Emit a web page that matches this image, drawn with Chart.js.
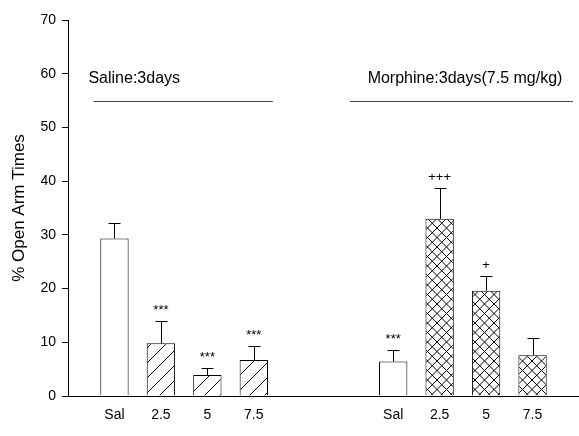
<!DOCTYPE html>
<html>
<head>
<meta charset="utf-8">
<script src="https://cdn.jsdelivr.net/npm/chart.js@4.4.1/dist/chart.umd.min.js"></script>
<style>
  html, body { margin: 0; padding: 0; background: #fff; }
  #wrap { width: 579px; height: 436px; position: relative; }
</style>
</head>
<body>
<div id="wrap"><canvas id="c"></canvas></div>
<script>
// Open-arm time (%) after 3 days of saline or morphine pretreatment
const doses = ['Sal', '2.5', '5', '7.5'];
const salineMeans = [29.3, 9.8, 3.9, 6.7];
const salineSem = [3.0, 4.2, 1.3, 2.7];
const morphineMeans = [6.4, 33.0, 19.6, 7.6];
const morphineSem = [2.2, 5.8, 2.8, 3.2];
const salineMarks = ['', '***', '***', '***'];
const morphineMarks = ['***', '+++', '+', ''];
const groupTitles = ['Saline:3days', 'Morphine:3days(7.5 mg/kg)'];
const yAxisTitle = '% Open Arm Times';
const yMin = 0, yMax = 70, yStep = 10;

const FONT = "'Liberation Sans', Arial, Helvetica, sans-serif";

// axis slots: blank, saline doses, two blanks, morphine doses, blank
const labels = ['', ...doses, '', '', ...doses, ''];
const means = [null, ...salineMeans, null, null, ...morphineMeans, null];
const sems = [null, ...salineSem, null, null, ...morphineSem, null];
const marks = ['', ...salineMarks, '', '', ...morphineMarks, ''];

// fill patterns
function makeHatch() {
  const s = 15;
  const cv = document.createElement('canvas');
  cv.width = s; cv.height = s;
  const g = cv.getContext('2d');
  g.fillStyle = '#fff'; g.fillRect(0, 0, s, s);
  g.strokeStyle = '#000'; g.lineWidth = 1;
  g.beginPath();
  g.moveTo(0, s); g.lineTo(s, 0);
  g.moveTo(-2, 2); g.lineTo(2, -2);
  g.moveTo(s - 2, s + 2); g.lineTo(s + 2, s - 2);
  g.stroke();
  return g.createPattern(cv, 'repeat');
}
function makeCross() {
  const s = 19, h = s / 2;
  const cv = document.createElement('canvas');
  cv.width = s; cv.height = s;
  const g = cv.getContext('2d');
  g.fillStyle = '#fff'; g.fillRect(0, 0, s, s);
  g.strokeStyle = '#000'; g.lineWidth = 1;
  g.beginPath();
  for (let k = -3; k <= 3; k++) {
    g.moveTo(k * h, 0); g.lineTo(k * h + s, s);
    g.moveTo(k * h, s); g.lineTo(k * h + s, 0);
  }
  g.stroke();
  return g.createPattern(cv, 'repeat');
}
const hatch = makeHatch();
const cross = makeCross();
const fills = ['#fff', '#fff', hatch, hatch, hatch, '#fff', '#fff', '#fff', cross, cross, cross, '#fff'];

// error bars, significance marks and group headers
const extras = {
  id: 'extras',
  afterDatasetsDraw(chart) {
    const { ctx, scales: { x, y } } = chart;
    const meta = chart.getDatasetMeta(0);
    ctx.save();
    ctx.strokeStyle = '#000';
    ctx.lineWidth = 1;
    means.forEach((m, i) => {
      if (m == null) return;
      const bar = meta.data[i];
      const cx = Math.round(bar.x) + 0.5;
      const top = Math.round(y.getPixelForValue(m + sems[i])) + 0.5;
      ctx.beginPath();
      ctx.moveTo(cx, bar.y);
      ctx.lineTo(cx, top);
      ctx.moveTo(cx - 6, top);
      ctx.lineTo(cx + 6, top);
      ctx.stroke();
      if (marks[i]) {
        ctx.font = `13px ${FONT}`;
        ctx.fillStyle = '#000';
        ctx.textAlign = 'center';
        ctx.textBaseline = 'alphabetic';
        ctx.fillText(marks[i], bar.x, top - 8);
      }
    });

    const headers = [
      { text: groupTitles[0], textFrom: 0.44, lineFrom: 0.55, lineTo: 4.41 },
      { text: groupTitles[1], textFrom: 6.45, lineFrom: 6.07, lineTo: 10.87 }
    ];
    const textY = y.getPixelForValue(58.3);
    const lineY = Math.round(y.getPixelForValue(55)) + 0.5;
    ctx.font = `16px ${FONT}`;
    ctx.fillStyle = '#000';
    ctx.textAlign = 'left';
    ctx.textBaseline = 'alphabetic';
    ctx.strokeStyle = '#444';
    headers.forEach(h => {
      ctx.fillText(h.text, x.getPixelForValue(h.textFrom), textY);
      ctx.beginPath();
      ctx.moveTo(x.getPixelForValue(h.lineFrom), lineY);
      ctx.lineTo(x.getPixelForValue(h.lineTo), lineY);
      ctx.stroke();
    });
    ctx.restore();
  }
};

new Chart(document.getElementById('c'), {
  type: 'bar',
  data: {
    labels,
    datasets: [{
      data: means,
      backgroundColor: fills,
      borderColor: '#000',
      borderWidth: 1,
      borderSkipped: 'bottom',
      barPercentage: 0.61,
      categoryPercentage: 1
    }]
  },
  options: {
    responsive: true,
    maintainAspectRatio: false,
    animation: false,
    devicePixelRatio: 1,
    layout: { padding: { top: 20, right: -6, bottom: 0, left: 0 } },
    plugins: { legend: { display: false }, tooltip: { enabled: false } },
    scales: {
      x: {
        offset: false,
        grid: { display: false, drawTicks: false },
        border: { display: true, color: '#000', width: 1 },
        ticks: { color: '#000', font: { family: FONT, size: 14 }, padding: 11, autoSkip: false, maxRotation: 0 },
        afterFit(scale) {
          scale.height = 40;
          scale.paddingLeft = 0;
          scale.paddingRight = -6;
        }
      },
      y: {
        min: yMin,
        max: yMax,
        grid: { drawOnChartArea: false, drawTicks: true, tickLength: 6, color: '#000' },
        border: { display: true, color: '#000', width: 1 },
        ticks: { stepSize: yStep, color: '#000', font: { family: FONT, size: 14 }, padding: 6 },
        title: { display: true, text: yAxisTitle, color: '#000', font: { family: FONT, size: 17 }, padding: { top: 9, bottom: 0 } },
        afterFit(scale) { scale.width = 68; }
      }
    }
  },
  plugins: [extras]
});
</script>
</body>
</html>
